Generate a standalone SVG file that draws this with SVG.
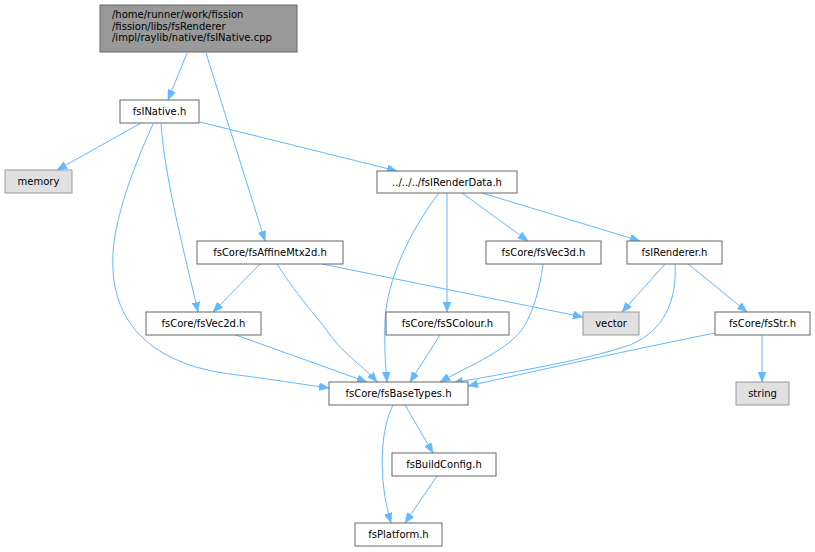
<svg xmlns="http://www.w3.org/2000/svg" width="815" height="552" viewBox="0 0 815 552">
<style>
  .n rect { fill: #ffffff; stroke: #666666; stroke-width: 1; }
  .n.ext rect { fill: #e0e0e0; stroke: #999999; }
  .n.root rect { fill: #999999; stroke: #666666; }
  .n text { font-family: "DejaVu Sans", "Liberation Sans", sans-serif; font-size: 10px; fill: #000000; text-anchor: middle; }
  .n.root text { text-anchor: start; }
  #edges path { fill: none; stroke: #63b8ff; stroke-width: 1; marker-end: url(#ah); }
</style>
<defs>
  <marker id="ah" viewBox="0 0 10 8" refX="10" refY="4" markerWidth="10" markerHeight="8" markerUnits="userSpaceOnUse" orient="auto">
    <path d="M0,0 L10,4 L0,8 z" fill="#63b8ff" stroke="#63b8ff" stroke-width="0.5"/>
  </marker>
</defs>
<rect width="815" height="552" fill="#ffffff"/>
<g id="edges">
  <path d="M187,53 L168,100"/>
  <path d="M206,53 L265,241"/>
  <path d="M141,123 L57,170"/>
  <path d="M200,122 L397,171"/>
  <path d="M161,124 C165,180 185,255 198,312"/>
  <path d="M153,124 C130,175 110,230 113,270 C116,330 160,365 230,374 C270,379 300,384 329,388"/>
  <path d="M260,264 L213,312"/>
  <path d="M277,264 C300,300 320,320 330,335 C345,355 365,368 377,382"/>
  <path d="M322,264 L583,317"/>
  <path d="M439,193 C410,230 387,280 385,320 C384,350 386,370 387,382"/>
  <path d="M447,193 L447,312"/>
  <path d="M462,193 L528,241"/>
  <path d="M482,193 L640,241"/>
  <path d="M543,264 C540,290 533,310 525,325 C510,350 470,365 440,382"/>
  <path d="M665,264 L622,312"/>
  <path d="M675,264 C677,300 665,330 630,345 C580,362 500,374 453,383"/>
  <path d="M687,263 L747,312"/>
  <path d="M440,335 L410,382"/>
  <path d="M233,334 L367,382"/>
  <path d="M715,333 C640,348 540,370 468,386"/>
  <path d="M762,335 L762,382"/>
  <path d="M405,405 L433,453"/>
  <path d="M393,405 C380,430 378,480 391,523"/>
  <path d="M437,476 L405,523"/>
</g>
<g id="n_root" class="n root">
  <rect x="100" y="5" width="197" height="47"/>
  <text x="112" y="18">/home/runner/work/fission</text>
  <text x="112" y="29.5">/fission/libs/fsRenderer</text>
  <text x="112" y="41">/impl/raylib/native/fsINative.cpp</text>
</g>
<g id="n_fsINative" class="n">
  <rect x="120" y="100" width="79" height="23"/>
  <text x="159.5" y="115">fsINative.h</text>
</g>
<g id="n_memory" class="n ext">
  <rect x="5" y="170" width="67" height="23"/>
  <text x="38.5" y="185">memory</text>
</g>
<g id="n_fsIRenderData" class="n">
  <rect x="377" y="171" width="140" height="22"/>
  <text x="447" y="186">../../../fsIRenderData.h</text>
</g>
<g id="n_fsAffineMtx2d" class="n">
  <rect x="197" y="241" width="146" height="23"/>
  <text x="270" y="256">fsCore/fsAffineMtx2d.h</text>
</g>
<g id="n_fsVec3d" class="n">
  <rect x="486" y="241" width="115" height="23"/>
  <text x="543.5" y="256">fsCore/fsVec3d.h</text>
</g>
<g id="n_fsIRenderer" class="n">
  <rect x="627" y="241" width="95" height="23"/>
  <text x="674.5" y="256">fsIRenderer.h</text>
</g>
<g id="n_fsVec2d" class="n">
  <rect x="146" y="312" width="115" height="23"/>
  <text x="203.5" y="327">fsCore/fsVec2d.h</text>
</g>
<g id="n_fsSColour" class="n">
  <rect x="386" y="312" width="123" height="23"/>
  <text x="447.5" y="327">fsCore/fsSColour.h</text>
</g>
<g id="n_vector" class="n ext">
  <rect x="583" y="312" width="56" height="23"/>
  <text x="611" y="327">vector</text>
</g>
<g id="n_fsStr" class="n">
  <rect x="715" y="312" width="95" height="23"/>
  <text x="762.5" y="327">fsCore/fsStr.h</text>
</g>
<g id="n_fsBaseTypes" class="n">
  <rect x="329" y="382" width="139" height="23"/>
  <text x="398.5" y="397">fsCore/fsBaseTypes.h</text>
</g>
<g id="n_string" class="n ext">
  <rect x="736" y="382" width="53" height="23"/>
  <text x="762.5" y="397">string</text>
</g>
<g id="n_fsBuildConfig" class="n">
  <rect x="392" y="453" width="104" height="23"/>
  <text x="444" y="468">fsBuildConfig.h</text>
</g>
<g id="n_fsPlatform" class="n">
  <rect x="355" y="523" width="87" height="23"/>
  <text x="398.5" y="538">fsPlatform.h</text>
</g>
</svg>
